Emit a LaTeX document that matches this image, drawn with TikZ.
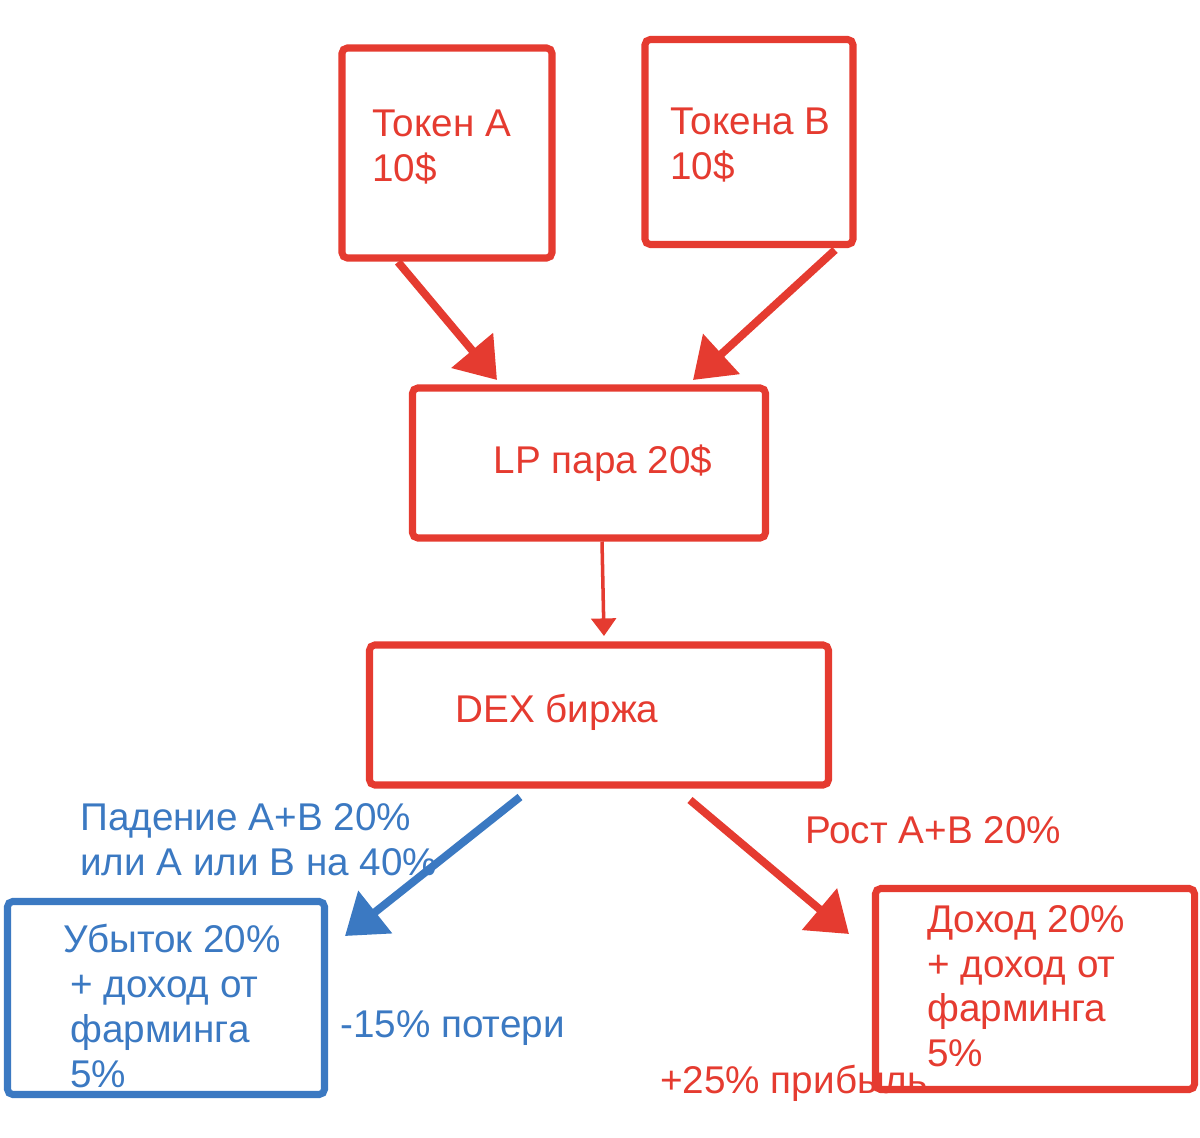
\documentclass[tikz,border=0pt]{standalone}
\usepackage{fontspec}
\setmainfont{Liberation Sans}
\usetikzlibrary{arrows.meta}
\definecolor{boxred}{HTML}{E53B30}
\definecolor{boxblue}{HTML}{3B79C2}
\tikzset{
  box/.style={draw=#1, line width=4pt, rounded corners=3pt, inner sep=0pt},
  txt/.style={text=#1, font=\fontsize{22}{25.5}\selectfont, align=left, inner sep=0pt},
  flow/.style={draw=#1, line width=4.5pt, -{Triangle[length=22pt,width=30pt]}},
}
\begin{document}
\begin{tikzpicture}[x=0.02cm,y=-0.02cm]
	\useasboundingbox (0,0) rectangle (1200,1138);
	% boxes
	\node[box=boxred, minimum width=210*0.02cm, minimum height=210*0.02cm] (tokA) at (447,153) {};
	\node[box=boxred, minimum width=208*0.02cm, minimum height=205*0.02cm] (tokB) at (749,142) {};
	\node[box=boxred, minimum width=353*0.02cm, minimum height=150*0.02cm] (lp) at (589,463) {};
	\node[box=boxred, minimum width=459*0.02cm, minimum height=140*0.02cm] (dex) at (599,715) {};
	\node[box=boxblue, minimum width=317*0.02cm, minimum height=193*0.02cm] (loss) at (166,998) {};
	\node[box=boxred, minimum width=319*0.02cm, minimum height=201*0.02cm] (gain) at (1035,989) {};

	% texts
	\node[txt=boxred, anchor=north west] (tokAtxt) at (372,110) {Токен А\\10\$};
	\node[txt=boxred, anchor=north west] (tokBtxt) at (670,108) {Токена В\\10\$};
	\node[txt=boxred] (lptxt) at (603,463) {LP пара 20\$};
	\node[txt=boxred] (dextxt) at (557,712) {DEX биржа};
	\node[txt=boxblue, anchor=north west] (falltxt) at (80,803) {Падение А+В 20\%\\или А или В на 40\%};
	\node[txt=boxblue, anchor=north west] (losstxt) at (63,924) {Убыток 20\%\\\hspace{4pt}+ доход от\\\hspace{4pt}фарминга\\\hspace{4pt}5\%};
	\node[txt=boxblue, anchor=west] (losspct) at (340,1028) {-15\% потери};
	\node[txt=boxred, anchor=west] (risetxt) at (805,830) {Рост А+В 20\%};
	\node[txt=boxred, anchor=north west] (gaintxt) at (927,905) {Доход 20\%\\+ доход от\\фарминга\\5\%};
	\node[txt=boxred, anchor=west] (gainpct) at (660,1083) {+25\% прибыль};

	% arrows
	\coordinate (aEnd) at (497,380);
	\coordinate (bEnd) at (693,380);
	\coordinate (dexIn) at (604,636);
	\coordinate (lossIn) at (345,936);
	\coordinate (gainIn) at (849,934);
	\draw[flow=boxred] (398,262) -- (aEnd);
	\draw[flow=boxred] (835,250) -- (bEnd);
	\draw[draw=boxred, line width=2pt, -{Triangle[length=10pt,width=14pt]}] (lp.south) ++(13,0) -- (dexIn);
	\draw[flow=boxblue] (520,797) -- (lossIn);
	\draw[flow=boxred] (690,800) -- (gainIn);
\end{tikzpicture}
\end{document}
